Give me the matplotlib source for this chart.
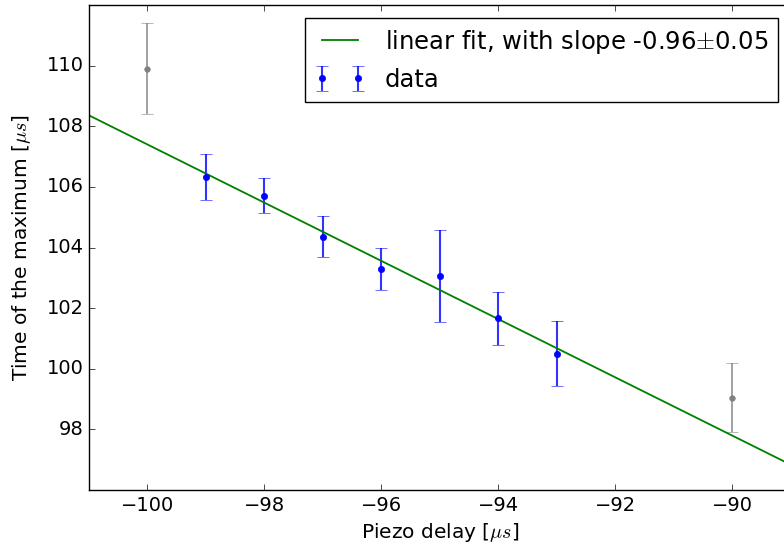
import numpy as np
import matplotlib
matplotlib.use("Agg")
import matplotlib.pyplot as plt

plt.style.use('classic')

# points kept in the fit
delay = np.array([-99, -98, -97, -96, -95, -94, -93])
t_max = np.array([106.33, 105.71, 104.36, 103.29, 103.05, 101.67, 100.50])
t_err = np.array([0.76, 0.58, 0.67, 0.69, 1.52, 0.87, 1.07])

# points left out of the fit
delay_out = np.array([-100, -90])
t_out = np.array([109.89, 99.04])
err_out = np.array([1.50, 1.14])

slope, intercept = np.polyfit(delay, t_max, 1)

fig = plt.figure(figsize=(7.84, 5.47), dpi=100, facecolor='white')
ax = fig.add_axes([89/784, 57/547, 701.5/784, 485/547])
ax.set_facecolor('white')

ax.errorbar(delay_out, t_out, yerr=err_out, fmt='o', color='gray',
            ecolor=(0.5, 0.5, 0.5, 0.8), mec='gray', ms=4, capsize=4,
            elinewidth=1.3)
ax.errorbar(delay, t_max, yerr=t_err, fmt='o', color='b', mec='b', ms=4.5,
            ecolor=(0, 0, 1, 0.8), capsize=4, elinewidth=1.5, label='data')

xfit = np.array([-101, -89])
ax.plot(xfit, slope*xfit + intercept, color='g', lw=1.3,
        label=r'linear fit, with slope -0.96$\pm$0.05')

ax.set_xlim(-101, -89)
ax.set_ylim(96, 112)
ax.set_xticks(np.arange(-100, -89, 2))
ax.set_yticks(np.arange(98, 111, 2))
ax.ticklabel_format(useOffset=False)
ax.tick_params(labelsize=14)
ax.set_xlabel(r'Piezo delay [$\mu s$]', fontsize=14.5)
ax.set_ylabel(r'Time of the maximum [$\mu s$]', fontsize=14.5, labelpad=10)

ax.legend(loc='upper right', bbox_to_anchor=(778/784, 1 - 18/547),
          bbox_transform=fig.transFigure, borderaxespad=0, fontsize=17.5,
          handlelength=2.1)

fig.savefig('out.png', dpi=100, facecolor='white')
